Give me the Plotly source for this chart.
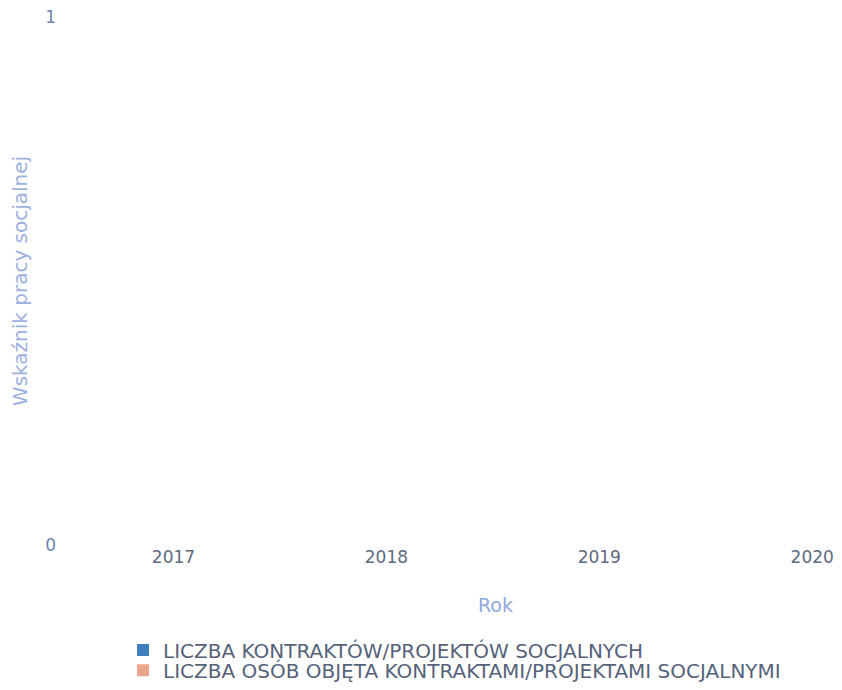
import plotly.graph_objects as go

years = [2017, 2018, 2019, 2020]
kontrakty = [0, 0, 0, 0]
osoby = [0, 0, 0, 0]
series_names = ["LICZBA KONTRAKTÓW/PROJEKTÓW SOCJALNYCH",
                "LICZBA OSÓB OBJĘTA KONTRAKTAMI/PROJEKTAMI SOCJALNYMI"]
series_colors = ["#3f7fbf", "#eba58c"]
x_title = "Rok"
y_title = "Wskaźnik pracy socjalnej"

FONT = "DejaVu Sans"

fig = go.Figure()
fig.add_trace(go.Bar(x=years, y=kontrakty, name=series_names[0],
                     marker=dict(color=series_colors[0], line=dict(width=0)),
                     legend="legend"))
fig.add_trace(go.Bar(x=years, y=osoby, name=series_names[1],
                     marker=dict(color=series_colors[1], line=dict(width=0)),
                     legend="legend2"))

legend_common = dict(orientation="v", x=0.0723, xanchor="left", yanchor="middle",
                     font=dict(family=FONT, size=20, color="#56627a"),
                     bgcolor="rgba(0,0,0,0)", borderwidth=0)

fig.update_layout(
    width=834, height=682,
    margin=dict(l=59, r=0, t=9, b=145),
    paper_bgcolor="white", plot_bgcolor="white",
    font=dict(family=FONT, size=17, color="#5a6678"),
    barmode="group",
    showlegend=True,
    legend=dict(y=-0.199, **legend_common),
    legend2=dict(y=-0.237, **legend_common),
    xaxis=dict(range=[2016.5, 2020.14], tickvals=years, ticktext=[str(y) for y in years],
               showgrid=False, zeroline=False, showline=False, ticks="",
               ticklabeloverflow="allow",
               tickfont=dict(family=FONT, size=17, color="#5d6b80")),
    yaxis=dict(range=[0, 1], tickvals=[0, 1], showgrid=False, zeroline=False,
               showline=False, ticks="", ticklabelstandoff=10,
               ticklabeloverflow="allow",
               tickfont=dict(family=FONT, size=17, color="#6f84ad"),
               title=dict(text=y_title, standoff=24,
                          font=dict(family=FONT, size=20, color="#9bb2e0"))),
    annotations=[dict(text=x_title, xref="paper", yref="paper", x=0.5535, y=0,
                      yshift=-60, showarrow=False, xanchor="center", yanchor="middle",
                      font=dict(family=FONT, size=19, color="#8fa8dc"))],
)

fig.write_html("out.html")
